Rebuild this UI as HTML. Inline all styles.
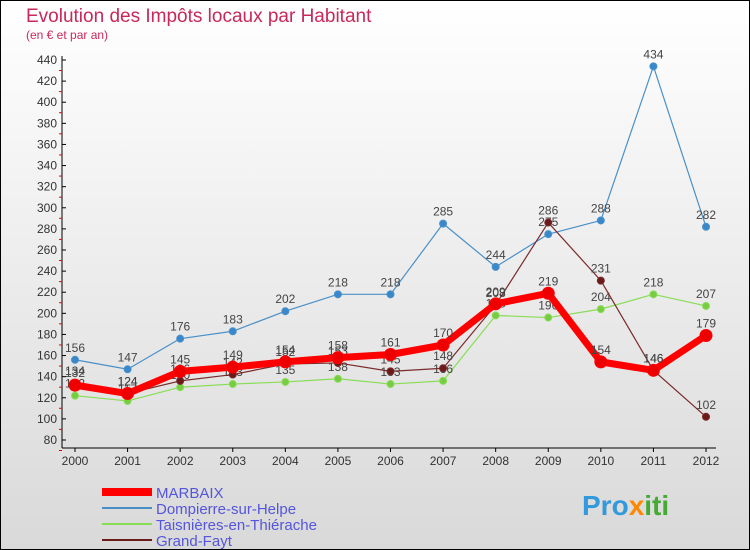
<!DOCTYPE html>
<html><head><meta charset="utf-8"><style>
body{margin:0;width:750px;height:550px;overflow:hidden;font-family:"Liberation Sans",sans-serif}
</style></head><body>
<svg width="750" height="550" style="display:block">
<defs><linearGradient id="bg" x1="0" y1="0" x2="0" y2="1"><stop offset="0" stop-color="#ffffff"/><stop offset="1" stop-color="#d9d9d9"/></linearGradient></defs>
<rect x="0.5" y="0.5" width="749" height="549" fill="url(#bg)" stroke="#000"/>
<text x="26" y="22" font-size="19" fill="#c8285a">Evolution des Impôts locaux par Habitant</text>
<text x="26" y="39" font-size="12" fill="#c8285a">(en € et par an)</text>
<g id="axes"></g><g id="series"></g>
<g>
<line x1="102" y1="492" x2="152" y2="492" stroke="#f00" stroke-width="8"/>
<text x="156" y="498" font-size="15" fill="#5555dd">MARBAIX</text>
<line x1="102" y1="508" x2="152" y2="508" stroke="#4a90c8" stroke-width="2"/>
<text x="156" y="514" font-size="15" fill="#5555dd">Dompierre-sur-Helpe</text>
<line x1="102" y1="524" x2="152" y2="524" stroke="#88dd55" stroke-width="2"/>
<text x="156" y="530" font-size="15" fill="#5555dd">Taisnières-en-Thiérache</text>
<line x1="102" y1="540" x2="152" y2="540" stroke="#6b1a1a" stroke-width="2"/>
<text x="156" y="546" font-size="15" fill="#5555dd">Grand-Fayt</text>
</g>
<text x="582" y="515" font-size="28" font-weight="bold" fill="#3399dd">Pro<tspan fill="#ff8800">x</tspan><tspan fill="#44aa33">iti</tspan></text>
</svg>
<script>
const years=["2000","2001","2002","2003","2004","2005","2006","2007","2008","2009","2010","2011","2012"];
const yTicks=[80,100,120,140,160,180,200,220,240,260,280,300,320,340,360,380,400,420,440];
const marbaix=[132,124,145,149,154,158,161,170,209,219,154,146,179];
const dompierre=[156,147,176,183,202,218,218,285,244,275,288,434,282];
const taisnieres=[122,117,130,133,135,138,133,136,198,196,204,218,207];
const grandFayt=[134,124,136,142,152,153,145,148,208,286,231,146,102];
const NS="http://www.w3.org/2000/svg";
const xs=i=>75+i*(706-75)/(years.length-1);
const ys=v=>440-(v-80)*(380/360);
function mk(t,a,p){const e=document.createElementNS(NS,t);for(const k in a)e.setAttribute(k,a[k]);p.appendChild(e);return e;}
const ax=document.getElementById('axes');
const yl=mk('line',{x1:62,y1:56,x2:62,y2:448,stroke:'#000'},ax);


const xl=mk('line',{x1:62,y1:448,x2:716,y2:448,stroke:'#000'},ax);


yTicks.forEach(v=>{const y=ys(v);
mk('line',{x1:62,y1:y,x2:66,y2:y,stroke:'#000'},ax);
mk('line',{x1:59,y1:y+10.5,x2:62,y2:y+10.5,stroke:'#e00'},ax);
const t=mk('text',{x:57,y:y+4,'font-size':12,'text-anchor':'end',fill:'#333'},ax);t.textContent=v;

});
years.forEach((yr,i)=>{const x=xs(i);
mk('line',{x1:x,y1:448,x2:x,y2:452,stroke:'#000'},ax);
const t=mk('text',{x:x,y:465,'font-size':12,'text-anchor':'middle',fill:'#333'},ax);t.textContent=yr;

});
const sg=document.getElementById('series');
function series(d,name,col,w,r,dot){const g=mk('g',{},sg);


mk('polyline',{points:d.map((v,i)=>xs(i)+','+ys(v)).join(' '),fill:'none',stroke:col,'stroke-width':w,'stroke-linejoin':'round'},g);
d.forEach((v,i)=>{const c=mk('circle',{cx:xs(i),cy:ys(v),r:r,fill:dot,stroke:col,'stroke-width':1},g);


const t=mk('text',{x:xs(i),y:ys(v)-8,'font-size':12,'text-anchor':'middle',fill:'#444'},g);t.textContent=v;

});}
series(dompierre,'dompierre-series','#4a90c8',1.2,3.5,'#3a88cc');
series(taisnieres,'taisnieres-series','#88dd55',1.2,3.5,'#77cc44');
series(grandFayt,'grand-fayt-series','#7a2a2a',1.2,3.5,'#6b1a1a');
series(marbaix,'marbaix-series','#ff0000',7,6,'#ee0000');
</script>
</body></html>
